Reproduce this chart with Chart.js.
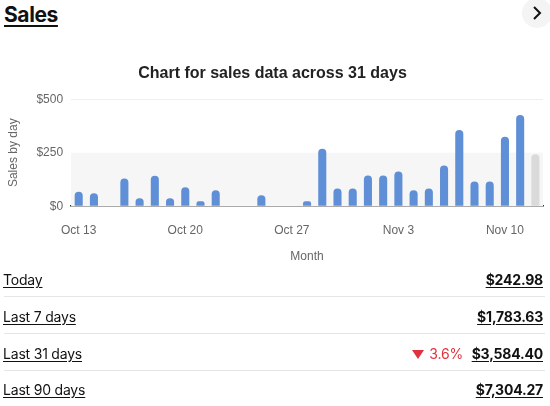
<!DOCTYPE html>
<html>
<head>
<meta charset="utf-8">
<script src="https://cdn.jsdelivr.net/npm/chart.js@4"></script>
<style>
  body { margin: 0; width: 550px; height: 406px; background: #fff; font-family: Inter, "Open Sans", sans-serif; color: #111; position: relative; overflow: hidden; }
  .titulo { position: absolute; left: 4px; top: 2px; font-size: 21px; font-weight: 700; text-decoration: underline; text-underline-offset: 3px; text-decoration-thickness: 2px; letter-spacing: -0.4px; }
  .botao { position: absolute; left: 522px; top: -2px; width: 30px; height: 30px; border-radius: 50%; background: #f4f4f4; }
  .botao svg { position: absolute; left: 10px; top: 8px; }
  #grafico-box { position: absolute; left: 0; top: 60px; width: 550px; height: 208px; }
  .linha { position: absolute; left: 4px; width: 541px; height: 36px; font-size: 14px; letter-spacing: -0.2px; }
  .linha .rotulo { position: absolute; left: -1px; top: 8px; text-decoration: underline; text-underline-offset: 2px; }
  .linha .valor { position: absolute; right: 2px; top: 8px; font-weight: 700; text-decoration: underline; text-underline-offset: 2px; }
  .linha .delta { position: absolute; right: 82px; top: 8px; color: #e0313e; }
  .linha .delta svg { margin-right: 5px; vertical-align: 0px; }
  .sep { position: absolute; left: 4px; width: 541px; height: 1px; background: #e5e5e5; }
</style>
</head>
<body>
<div class="titulo">Sales</div>
<div class="botao"><svg width="10" height="14" viewBox="0 0 10 14"><path d="M2 1 L8 7 L2 13" fill="none" stroke="#111" stroke-width="2"/></svg></div>
<div id="grafico-box"><canvas id="chart-vendas"></canvas></div>

<div class="linha" style="top:263px"><span class="rotulo">Today</span><span class="valor">$242.98</span></div>
<div class="sep" style="top:296px"></div>
<div class="linha" style="top:300px"><span class="rotulo">Last 7 days</span><span class="valor">$1,783.63</span></div>
<div class="sep" style="top:333px"></div>
<div class="linha" style="top:337px"><span class="rotulo">Last 31 days</span><span class="delta"><svg width="12" height="9" viewBox="0 0 12 9"><path d="M0 0 L12 0 L6 9 Z" fill="#e0313e"/></svg>3.6%</span><span class="valor">$3,584.40</span></div>
<div class="sep" style="top:370px"></div>
<div class="linha" style="top:373px"><span class="rotulo">Last 90 days</span><span class="valor">$7,304.27</span></div>

<script>
// Dados do gráfico
const dias = [
    'Oct 13', 'Oct 14', 'Oct 15', 'Oct 16', 'Oct 17', 'Oct 18', 'Oct 19',
    'Oct 20', 'Oct 21', 'Oct 22', 'Oct 23', 'Oct 24', 'Oct 25', 'Oct 26',
    'Oct 27', 'Oct 28', 'Oct 29', 'Oct 30', 'Oct 31', 'Nov 1', 'Nov 2',
    'Nov 3', 'Nov 4', 'Nov 5', 'Nov 6', 'Nov 7', 'Nov 8', 'Nov 9',
    'Nov 10', 'Nov 11', 'Nov 12'
];
const vendas = [
    68, 60, 0, 130, 37, 142, 37,
    88, 23, 74, 0, 0, 51, 0,
    0, 23, 268, 83, 83, 144, 144,
    162, 74, 83, 190, 356, 116, 116,
    324, 426, 242.98
];
const rotulosEixoX = ['Oct 13', 'Oct 20', 'Oct 27', 'Nov 3', 'Nov 10'];
const ticksY = [0, 250, 500];

// Faixa cinza entre $0 e $250
const faixaFundo = {
    id: 'faixaFundo',
    beforeDatasetsDraw(chart) {
        const { ctx, chartArea, scales } = chart;
        const yTopo = scales.y.getPixelForValue(ticksY[1]);
        const yBase = scales.y.getPixelForValue(ticksY[0]);
        ctx.save();
        ctx.fillStyle = '#f6f6f6';
        ctx.fillRect(chartArea.left, yTopo, chartArea.right - chartArea.left, yBase - yTopo);
        ctx.restore();
    }
};

document.addEventListener('DOMContentLoaded', () => {
    const canvas = document.getElementById('chart-vendas');
    const cores = vendas.map((v, i) => i === vendas.length - 1 ? '#dadada' : '#5f8fd7');

    new Chart(canvas, {
        type: 'bar',
        data: {
            labels: dias,
            datasets: [{
                label: 'Sales',
                data: vendas,
                backgroundColor: cores,
                borderRadius: { topLeft: 4, topRight: 4 },
                borderSkipped: false,
                categoryPercentage: 1,
                barPercentage: 0.53
            }]
        },
        plugins: [faixaFundo],
        options: {
            responsive: true,
            maintainAspectRatio: false,
            animation: false,
            layout: { padding: { left: 2, right: 7, top: 0, bottom: 0 } },
            plugins: {
                legend: { display: false },
                tooltip: { enabled: false },
                title: {
                    display: true,
                    text: 'Chart for sales data across 31 days',
                    color: '#222',
                    font: { family: 'Liberation Sans', size: 16, weight: 'bold' },
                    padding: { top: 4, bottom: 16 }
                }
            },
            scales: {
                x: {
                    grid: { display: false },
                    border: { color: '#333', width: 1.5 },
                    ticks: {
                        autoSkip: false,
                        maxRotation: 0,
                        color: '#666',
                        padding: 9,
                        font: { family: 'Liberation Sans', size: 12 },
                        callback: function (valor, indice) {
                            const rotulo = dias[indice];
                            return rotulosEixoX.includes(rotulo) ? rotulo : '';
                        }
                    },
                    title: {
                        display: true,
                        text: 'Month',
                        color: '#666',
                        font: { family: 'Liberation Sans', size: 12 },
                        padding: { top: 3 }
                    }
                },
                y: {
                    min: 0,
                    max: 500,
                    afterBuildTicks: (eixo) => { eixo.ticks = ticksY.map(v => ({ value: v })); },
                    grid: {
                        drawTicks: false,
                        color: (c) => c.tick && c.tick.value === 500 ? '#eeeeee' : 'rgba(0,0,0,0)'
                    },
                    border: { display: false },
                    ticks: {
                        color: '#666',
                        padding: 8,
                        font: { family: 'Liberation Sans', size: 12 },
                        callback: (v) => '$' + v
                    },
                    title: {
                        display: true,
                        text: 'Sales by day',
                        color: '#666',
                        font: { family: 'Liberation Sans', size: 12 },
                        padding: { bottom: 8 }
                    }
                }
            }
        }
    });
});
</script>
</body>
</html>
